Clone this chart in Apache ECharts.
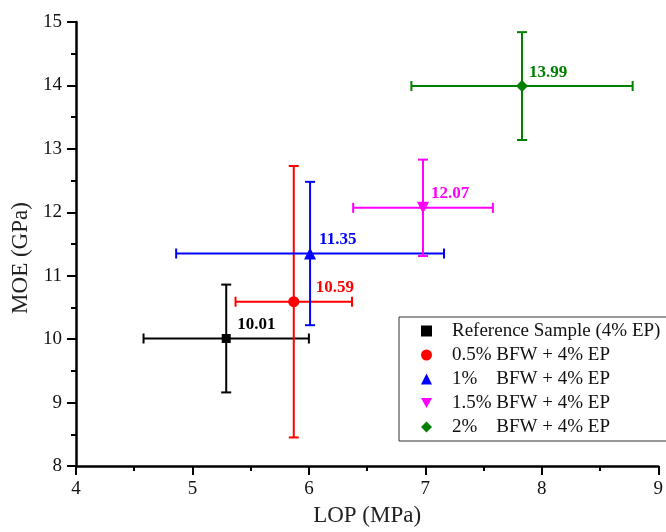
<!DOCTYPE html>
<html>
<head>
<meta charset="utf-8">
<script src="https://cdn.jsdelivr.net/npm/echarts@6/dist/echarts.min.js"></script>
<style>
html, body { margin: 0; padding: 0; background: #fff; }
#main { width: 666px; height: 532px; }
</style>
</head>
<body>
<div id="main"></div>
<script>
// groups
var names = ['Reference Sample (4% EP)', '0.5% BFW + 4% EP', '1%    BFW + 4% EP', '1.5% BFW + 4% EP', '2%    BFW + 4% EP'];
// LOP (MPa) mean and error
var lop = [5.29, 5.87, 6.01, 6.98, 7.83];
var lopErr = [0.71, 0.50, 1.15, 0.60, 0.95];
// MOE (GPa) mean and error
var moe = [10.01, 10.59, 11.35, 12.07, 13.99];
var moeErr = [0.85, 2.14, 1.13, 0.76, 0.85];

var serif = "'Liberation Serif', 'Times New Roman', serif";
var downTri = 'path://M0,0 L10,0 L5,9 Z';

// marker looks per group
var looks = [
  { color: '#000000', symbol: 'rect', size: 9, dx: 11, dy: -14 },
  { color: '#ff0000', symbol: 'circle', size: 11, dx: 22, dy: -14 },
  { color: '#0000ff', symbol: 'triangle', size: 12, dx: 9, dy: -14 },
  { color: '#ff00ff', symbol: downTri, size: 12, dx: 8, dy: -14 },
  { color: '#008000', symbol: 'diamond', size: 12, dx: 7, dy: -13 }
];

function errRender(params, api) {
  var x = api.value(0), y = api.value(1), ex = api.value(2), ey = api.value(3);
  var l = api.coord([x - ex, y]), r = api.coord([x + ex, y]);
  var t = api.coord([x, y + ey]), b = api.coord([x, y - ey]);
  var c = 5;
  var st = { stroke: api.visual('color'), lineWidth: 2 };
  function ln(x1, y1, x2, y2) {
    return { type: 'line', shape: { x1: x1, y1: y1, x2: x2, y2: y2 }, style: st };
  }
  return {
    type: 'group',
    children: [
      ln(l[0], l[1], r[0], r[1]),
      ln(t[0], t[1], b[0], b[1]),
      ln(l[0], l[1] - c, l[0], l[1] + c),
      ln(r[0], r[1] - c, r[0], r[1] + c),
      ln(t[0] - c, t[1], t[0] + c, t[1]),
      ln(b[0] - c, b[1], b[0] + c, b[1])
    ]
  };
}

var series = [];
for (var i = 0; i < names.length; i++) {
  series.push({
    name: 'err' + i,
    type: 'custom',
    renderItem: errRender,
    itemStyle: { color: looks[i].color },
    data: [[lop[i], moe[i], lopErr[i], moeErr[i]]],
    z: 1,
    silent: true
  });
}
for (var i = 0; i < names.length; i++) {
  series.push({
    name: names[i],
    type: 'scatter',
    symbol: looks[i].symbol,
    symbolSize: looks[i].size,
    itemStyle: { color: looks[i].color, opacity: 1 },
    data: [[lop[i], moe[i]]],
    z: 3,
    label: {
      show: true,
      position: 'right',
      distance: 0,
      offset: [looks[i].dx - looks[i].size / 2, looks[i].dy],
      formatter: function (p) { return p.value[1].toFixed(2); },
      color: looks[i].color,
      fontFamily: serif,
      fontWeight: 'bold',
      fontSize: 17
    }
  });
}

var chart = echarts.init(document.getElementById('main'));
chart.setOption({
  animation: false,
  backgroundColor: '#fff',
  grid: { left: 76, right: 0, top: 22, bottom: 64, containLabel: false },
  xAxis: {
    type: 'value', min: 4, max: 9, interval: 1,
    name: 'LOP (MPa)', nameLocation: 'middle', nameGap: 38,
    nameTextStyle: { fontFamily: serif, fontSize: 23, color: '#222' },
    axisLine: { lineStyle: { color: '#000', width: 2.5 } },
    axisTick: { inside: false, length: 9, lineStyle: { width: 2, color: '#000' } },
    minorTick: { show: true, splitNumber: 2, length: 5, lineStyle: { width: 2, color: '#000' } },
    axisLabel: { fontFamily: serif, fontSize: 19, color: '#111', margin: 14, showMaxLabel: true, showMinLabel: true },
    splitLine: { show: false }
  },
  yAxis: {
    type: 'value', min: 8, max: 15, interval: 1,
    name: 'MOE (GPa)', nameLocation: 'middle', nameGap: 42,
    nameTextStyle: { fontFamily: serif, fontSize: 23, color: '#222', padding: [0, 28, 0, 0] },
    axisLine: { show: true, lineStyle: { color: '#000', width: 2.5 } },
    axisTick: { show: true, inside: false, length: 9, lineStyle: { width: 2, color: '#000' } },
    minorTick: { show: true, splitNumber: 2, length: 5, lineStyle: { width: 2, color: '#000' } },
    axisLabel: { fontFamily: serif, fontSize: 19, color: '#111', margin: 14, showMaxLabel: true, showMinLabel: true },
    splitLine: { show: false }
  },
  legend: {
    orient: 'vertical',
    left: 399, top: 317,
    padding: [4, 30, 4, 22],
    itemWidth: 11, itemHeight: 11, itemGap: 4,
    borderColor: '#333', borderWidth: 1,
    selectedMode: false,
    textStyle: { fontFamily: serif, fontSize: 19, color: '#111', lineHeight: 20, padding: [0, 0, 0, 15] },
    data: names.map(function (n, i) { return { name: n, icon: looks[i].symbol }; })
  },
  series: series
});
</script>
</body>
</html>
